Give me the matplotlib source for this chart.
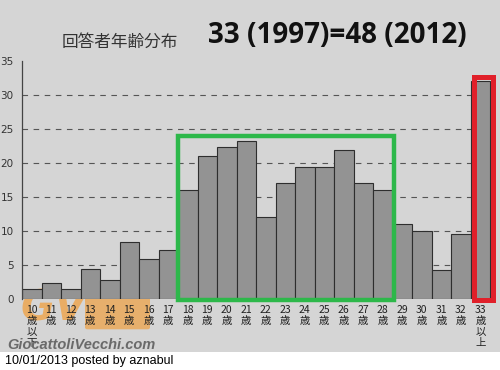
import matplotlib
matplotlib.use("Agg")
import matplotlib.pyplot as plt
import numpy as np
from matplotlib.patches import Rectangle, FancyBboxPatch

plt.rcParams['font.family'] = ['Noto Sans CJK JP', 'DejaVu Sans']

# --- data ---
ages = ['10', '11', '12', '13', '14', '15', '16', '17', '18', '19', '20', '21',
        '22', '23', '24', '25', '26', '27', '28', '29', '30', '31', '32', '33']
counts = [1.4, 2.4, 1.4, 4.4, 2.8, 8.4, 5.9, 7.2, 16.0, 21.0, 22.3, 23.3,
          12.1, 17.0, 19.4, 19.4, 21.9, 17.0, 16.0, 11.1, 10.0, 4.3, 9.5, 32.0]
suffix = {'10': '歳\n以\n下', '33': '歳\n以\n上'}
tick_labels = [a + '\n' + suffix.get(a, '歳') for a in ages]
yticks = [0, 5, 10, 15, 20, 25, 30, 35]
green_span = ('18', '28')
red_span = ('33', '33')

bg = '#d5d5d5'
fig = plt.figure(figsize=(5, 3.7), dpi=100, facecolor=bg)
ax = fig.add_axes([0.044, 0.192, 0.946, 0.643])
ax.set_facecolor(bg)

x = np.arange(len(ages))
ax.bar(x, counts, width=1.0, color='#939393', edgecolor='#2e2e2e',
       linewidth=0.8, zorder=2)

ax.set_xlim(-0.5, 23.75)
ax.set_ylim(0, 35)
for v in yticks[1:-1]:
    ax.axhline(v, color='#555555', lw=0.8, linestyle=(0, (5, 5)), zorder=1)

for s in ['top', 'right', 'bottom']:
    ax.spines[s].set_visible(False)
ax.spines['left'].set_color('#444444')
ax.spines['left'].set_linewidth(0.9)

ax.set_yticks(yticks)
ax.set_yticklabels([str(v) for v in yticks], fontsize=7.5, color='#333333',
                   family='DejaVu Sans')
ax.tick_params(axis='y', length=0, pad=6)
ax.set_xticks(x)
ax.set_xticklabels(tick_labels, fontsize=7.5, color='#222222', linespacing=1.15,
                   va='top')
ax.tick_params(axis='x', length=0, pad=4)

# highlight boxes
g0, g1 = ages.index(green_span[0]), ages.index(green_span[1])
gtop = max(counts[g0:g1 + 1]) + 0.7
ax.add_patch(Rectangle((g0 - 0.5, -0.1), g1 - g0 + 1.05, gtop + 0.1,
                       fill=False, edgecolor='#2db84a', lw=3.2, zorder=4,
                       clip_on=False))
r0 = ages.index(red_span[0])
ax.add_patch(Rectangle((r0 - 0.35, -0.1), 0.98, counts[r0] + 0.7,
                       fill=False, edgecolor='#e0202a', lw=3.6, zorder=4,
                       clip_on=False))

# titles
fig.text(0.24, 0.885, '回答者年齢分布', fontsize=12, color='#333333',
         ha='center', va='center')
fig.text(0.674, 0.905, '33 (1997)=48 (2012)', fontsize=20, fontweight='bold',
         family='Open Sans', color='#111111', ha='center', va='center')

# watermark, kept under the tick labels
ax.text(0.04, 0.165, 'GV', fontsize=30, fontweight='bold', style='italic',
        family='DejaVu Sans', color='#f0a040', alpha=0.75, ha='left',
        va='center', transform=fig.transFigure, zorder=0.5, clip_on=False)
ax.add_patch(FancyBboxPatch((0.175, 0.115), 0.12, 0.08,
                            boxstyle='round,pad=0.005', transform=fig.transFigure,
                            facecolor='#f0a040', alpha=0.7, edgecolor='none',
                            zorder=0.5, clip_on=False))
fig.text(0.014, 0.067, 'GiocattoliVecchi.com', fontsize=10.5, style='italic',
         fontweight='bold', family='Liberation Sans', color='#6a6a6a',
         ha='left', va='center')

# bottom strip
fig.patches.append(Rectangle((0, 0), 1, 0.048, transform=fig.transFigure,
                             facecolor='white', edgecolor='none'))
fig.text(0.01, 0.024, '10/01/2013 posted by aznabul', fontsize=9,
         family='Liberation Sans', color='black', ha='left', va='center')

fig.savefig('out.png', dpi=100, facecolor=bg)
